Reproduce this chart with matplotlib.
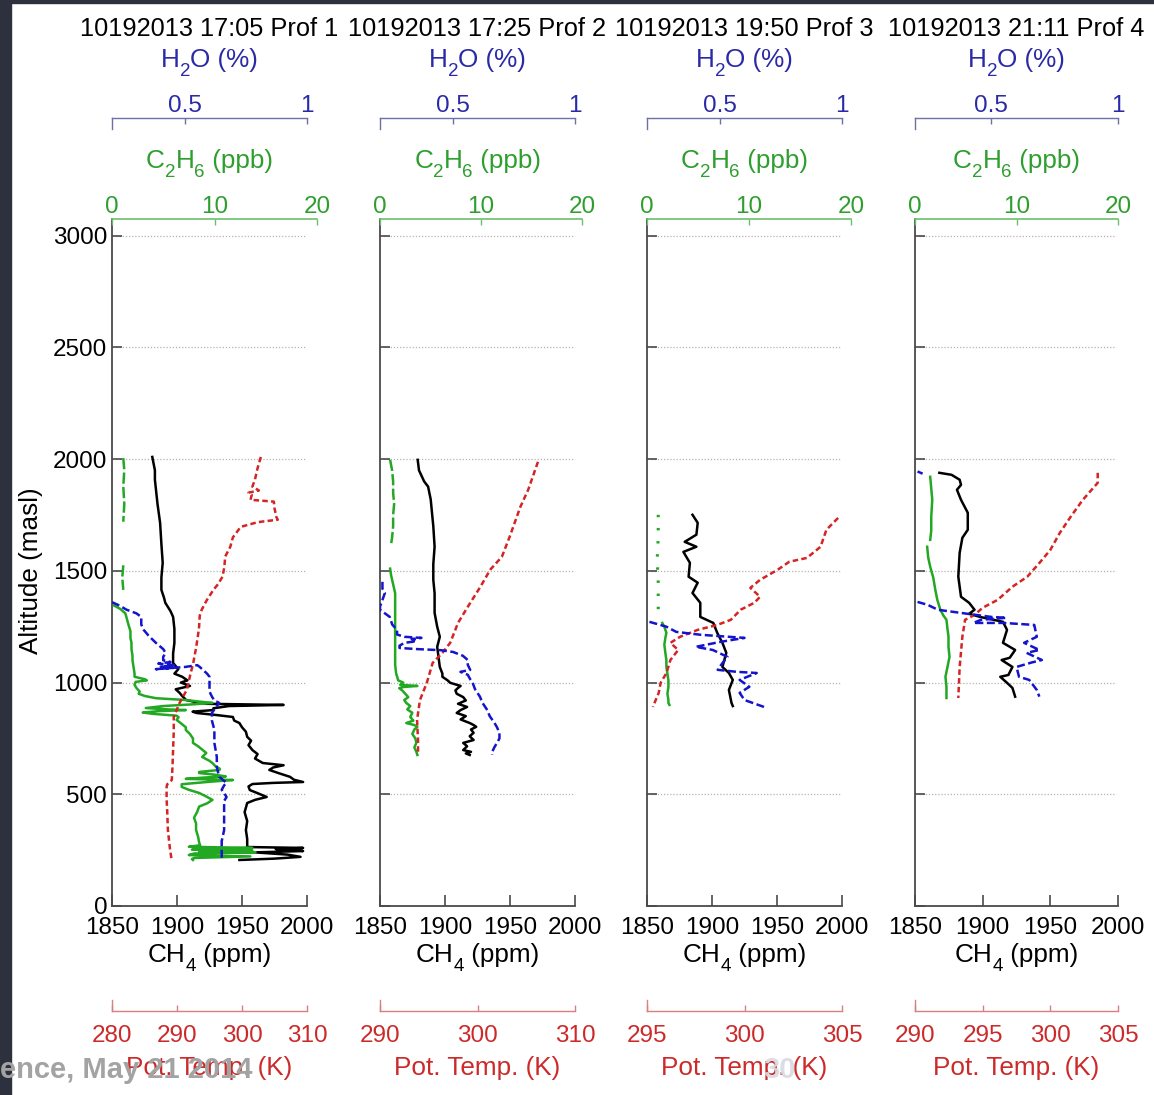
import numpy as np
import matplotlib
matplotlib.use("Agg")
import matplotlib.pyplot as plt
from matplotlib.patches import Rectangle

plt.rcParams["font.family"] = ["Liberation Sans", "DejaVu Sans"]

nan = np.nan

# ---------------- profile data (altitude in m a.s.l.) ----------------
titles = ["10192013 17:05 Prof 1", "10192013 17:25 Prof 2",
          "10192013 19:50 Prof 3", "10192013 21:11 Prof 4"]

ch4_ticks = [1850, 1900, 1950, 2000]
c2h6_ticks = [0, 10, 20]
h2o_ticks = [0.5, 1]
alt_ticks = [0, 500, 1000, 1500, 2000, 2500, 3000]
theta_limits = [(280, 310), (290, 310), (295, 305), (290, 305)]
theta_ticks = [[280, 290, 300, 310], [290, 300, 310], [295, 300, 305],
               [290, 295, 300, 305]]

# Profile 1
p1_ch4_alt = [2010, 1950, 1908, 1800, 1715, 1620, 1536, 1470, 1415, 1380, 1357, 1320,
              1294, 1240, 1178, 1130, 1088, 1060, 1040, 1026, 1010, 1000, 985, 970,
              954, 940, 922, 912, 905, 900, 895, 885, 877, 870, 864, 855, 846, 830,
              819, 800, 780, 757, 740, 720, 698, 680, 660, 640, 630, 620, 609, 595,
              578, 565, 555, 551, 546, 535, 519, 505, 488, 475, 461, 420, 380, 340,
              300, 275, 264, 260, 255, 250, 246, 240, 230, 220, 212, 206]
p1_ch4 = [1881, 1883, 1883, 1885, 1887, 1888, 1889, 1888, 1888, 1890, 1891, 1895,
          1897, 1898, 1898, 1897, 1897, 1901, 1898, 1904, 1908, 1903, 1910, 1899,
          1902, 1904, 1907, 1915, 1923, 1982, 1940, 1928, 1928, 1912, 1915, 1930,
          1943, 1944, 1948, 1950, 1953, 1954, 1957, 1955, 1958, 1962, 1960, 1966,
          1982, 1974, 1971, 1978, 1987, 1990, 1997, 1974, 1958, 1955, 1956, 1962,
          1969, 1960, 1954, 1952, 1954, 1953, 1954, 1954, 1954, 1997, 1976, 1990,
          1997, 1960, 1985, 1995, 1975, 1948]
p1_c2h6_top_alt = [2005, 1950, 1880, 1800, 1720, nan, 1525, 1470, 1415]
p1_c2h6_top = [1.1, 1.2, 1.1, 1.2, 1.1, nan, 1.1, 1.0, 1.1]
p1_c2h6_alt = [1345, 1330, 1310, 1294, 1260, 1230, 1200, 1178, 1150, 1120, 1100, 1070,
               1040, 1026, 1015, 1010, 1003, 990, 975, 960, 950, 940, 930, 922, 915,
               909, 903, 895, 886, 880, 877, 872, 866, 860, 852, 845, 833, 815, 800,
               788, 770, 750, 730, 715, 700, 685, 667, 650, 640, 625, 615, 609, 600,
               595, 588, 580, 575, 569, 564, 556, 545, 533, 520, 506, 490, 475, 460,
               445, 420, 395, 370, 340, 310, 285, 272, 265, 260, 256, 252, 248, 244,
               240, 235, 228, 222, 215, 210, 206]
p1_c2h6 = [0.2, 0.8, 1.3, 1.4, 1.6, 1.8, 1.8, 1.9, 1.9, 2.0, 2.0, 2.1, 2.2, 2.2, 3.2,
           3.4, 2.3, 2.2, 2.4, 2.7, 2.6, 3.2, 4.3, 7.2, 8.5, 9.8, 8.0, 5.0, 3.3, 5.5,
           7.2, 4.5, 3.0, 4.0, 6.3, 6.5, 6.3, 6.8, 7.2, 7.2, 7.6, 7.9, 7.9, 8.4, 8.8,
           9.2, 8.8, 9.5, 9.8, 10.1, 10.5, 10.5, 8.5, 8.5, 10.0, 11.1, 9.0, 7.2, 11.8,
           9.5, 6.8, 6.8, 7.5, 8.5, 9.2, 9.8, 9.3, 8.5, 8.3, 8.0, 8.2, 8.2, 8.4, 8.5,
           8.6, 7.5, 13.7, 8.0, 7.8, 13.7, 8.5, 14.0, 8.0, 7.5, 13.5, 8.0, 7.8, 7.9]
p1_h2o_alt = [1360, 1345, 1326, 1310, 1294, 1260, 1236, 1210, 1178, 1150, 1133, 1115,
              1100, 1092, 1085, 1078, 1072, 1066, 1060, 1070, 1078, 1070, 1060, 1040,
              1026, 990, 960, 937, 920, 909, 895, 880, 864, 830, 788, 730, 667, 620,
              578, 560, 551, 540, 520, 505, 488, 470, 420, 340, 290, 251, 225, 206]
p1_h2o = [0.20, 0.23, 0.26, 0.30, 0.32, 0.32, 0.33, 0.35, 0.38, 0.41, 0.42, 0.41,
          0.41, 0.44, 0.39, 0.46, 0.40, 0.45, 0.38, 0.50, 0.55, 0.56, 0.57, 0.59,
          0.60, 0.60, 0.60, 0.61, 0.62, 0.64, 0.63, 0.62, 0.61, 0.61, 0.62, 0.62,
          0.63, 0.63, 0.64, 0.66, 0.67, 0.66, 0.65, 0.66, 0.67, 0.66, 0.66, 0.66,
          0.65, 0.65, 0.65, 0.65]
p1_theta_alt = [2010, 1960, 1910, 1877, 1860, 1850, 1840, 1818, 1810, 1780, 1740, 1729,
                1722, 1718, 1697, 1650, 1608, 1563, 1520, 1474, 1440, 1415, 1370, 1326,
                1300, 1250, 1205, 1150, 1088, 1030, 967, 909, 846, 780, 700, 620, 564,
                545, 533, 480, 420, 340, 260, 220, 206]
p1_theta = [302.9, 302.4, 302.0, 301.6, 302.6, 301.0, 301.5, 301.3, 304.9, 305.0,
            305.3, 305.5, 303.5, 302.4, 299.8, 298.6, 298.2, 297.4, 297.3, 297.0,
            296.3, 295.6, 294.6, 293.8, 293.5, 293.4, 293.2, 292.9, 292.5, 292.0,
            291.5, 290.4, 289.5, 289.5, 289.4, 289.3, 289.2, 288.5, 288.4, 288.4,
            288.5, 288.6, 288.9, 289.1, 289.2]

# Profile 2
p2_ch4_alt = [1997, 1950, 1900, 1877, 1820, 1760, 1700, 1608, 1530, 1460, 1400, 1312,
              1250, 1205, 1160, 1115, 1070, 1040, 1026, 1010, 999, 985, 976, 965, 950,
              935, 920, 905, 891, 877, 864, 850, 835, 819, 810, 802, 790, 775, 760,
              743, 730, 715, 698, 690, 683, 676]
p2_ch4 = [1879, 1880, 1884, 1887, 1889, 1890, 1891, 1892, 1891, 1891, 1892, 1892,
          1894, 1896, 1894, 1895, 1896, 1898, 1898, 1902, 1904, 1912, 1910, 1908,
          1909, 1914, 1916, 1910, 1917, 1912, 1909, 1916, 1912, 1919, 1922, 1924,
          1920, 1922, 1919, 1922, 1914, 1917, 1914, 1920, 1916, 1919]
p2_c2h6_top_alt = [1997, 1950, 1900, 1850, 1800, 1750, 1700, 1650, 1620]
p2_c2h6_top = [1.0, 1.2, 1.3, 1.3, 1.4, 1.3, 1.3, 1.2, 1.1]
p2_c2h6_alt = [1510, 1480, 1440, 1400, 1350, 1300, 1260, 1200, 1150, 1120, 1080, 1040,
               1026, 1010, 1000, 990, 985, 980, 975, 965, 950, 935, 922, 909, 895,
               880, 865, 846, 830, 819, 810, 802, 790, 770, 750, 730, 710, 690, 676]
p2_c2h6 = [1.0, 1.1, 1.3, 1.5, 1.5, 1.5, 1.5, 1.5, 1.5, 1.5, 1.5, 1.6, 1.7, 1.8, 2.3,
           2.0, 3.7, 2.3, 1.9, 2.2, 2.5, 2.8, 2.4, 2.6, 3.0, 2.7, 3.2, 3.0, 3.3, 2.6,
           3.4, 3.7, 3.4, 3.2, 3.5, 3.6, 3.4, 3.6, 3.7]
p2_h2o_alt = [1451, 1420, 1401, 1370, 1340, 1326, 1310, 1294, 1260, 1236, 1215, 1205,
              1200, 1195, 1185, 1178, 1165, 1155, 1150, 1145, 1137, 1120, 1101, 1080,
              1057, 1048, 1035, 1015, 999, 970, 937, 910, 877, 850, 819, 800, 775, 750,
              730, 712, 690, 676]
p2_h2o = [0.21, 0.21, 0.22, 0.21, 0.20, 0.20, 0.22, 0.24, 0.25, 0.27, 0.27, 0.30,
          0.37, 0.33, 0.35, 0.30, 0.28, 0.28, 0.35, 0.45, 0.50, 0.54, 0.56, 0.56,
          0.57, 0.53, 0.56, 0.57, 0.58, 0.59, 0.61, 0.62, 0.64, 0.65, 0.67, 0.68,
          0.69, 0.69, 0.68, 0.67, 0.66, 0.66]
p2_theta_alt = [1988, 1863, 1787, 1653, 1563, 1505, 1429, 1339, 1267, 1178, 1133, 1088,
                999, 922, 833, 743, 676]
p2_theta = [306.2, 305.2, 304.4, 303.3, 302.5, 301.3, 300.3, 299.0, 298.0, 297.2,
            296.4, 295.4, 294.8, 294.1, 293.8, 293.9, 293.9]

# Profile 3
p3_ch4_alt = [1751, 1715, 1662, 1630, 1608, 1585, 1536, 1474, 1447, 1401, 1357, 1294,
              1267, 1223, 1178, 1133, 1070, 1043, 1012, 967, 909, 895]
p3_ch4 = [1885, 1889, 1888, 1879, 1888, 1878, 1883, 1882, 1889, 1885, 1891, 1891,
          1901, 1904, 1908, 1911, 1908, 1913, 1916, 1913, 1915, 1916]
p3_c2h6_top_alt = [1751, 1650, 1550, 1450, 1326]
p3_c2h6_top = [1.1, 1.1, 1.0, 1.1, 1.1]
p3_c2h6_alt = [1267, 1250, 1223, 1200, 1170, 1133, 1100, 1070, 1040, 1010, 981, 950,
               922, 909, 900]
p3_c2h6 = [1.5, 1.7, 1.9, 1.8, 1.7, 1.8, 1.9, 1.9, 2.0, 2.1, 2.1, 2.0, 2.1, 2.1, 2.2]
p3_h2o_alt = [1272, 1250, 1227, 1214, 1200, 1182, 1160, 1146, 1115, 1088, 1057, 1048,
              1043, 1012, 981, 954, 922, 891]
p3_h2o = [0.21, 0.28, 0.32, 0.42, 0.60, 0.50, 0.40, 0.47, 0.53, 0.51, 0.49, 0.57,
          0.65, 0.58, 0.62, 0.58, 0.60, 0.68]
p3_theta_alt = [1737, 1684, 1608, 1558, 1541, 1505, 1460, 1424, 1384, 1357, 1326, 1281,
                1258, 1236, 1205, 1178, 1146, 1101, 1043, 999, 954, 891]
p3_theta = [304.8, 304.2, 303.9, 303.2, 302.3, 301.7, 300.8, 300.3, 300.8, 300.5,
            299.8, 299.3, 298.6, 297.6, 296.7, 296.2, 296.6, 296.2, 296.0, 295.7,
            295.6, 295.3]

# Profile 4
p4_ch4_alt = [1939, 1930, 1908, 1885, 1863, 1818, 1760, 1684, 1648, 1581, 1474, 1384,
              1357, 1326, 1308, 1294, 1272, 1236, 1178, 1146, 1111, 1101, 1070, 1034,
              1026, 999, 976, 937]
p4_ch4 = [1868, 1877, 1883, 1884, 1881, 1884, 1889, 1889, 1885, 1883, 1882, 1884,
          1890, 1894, 1890, 1898, 1915, 1918, 1915, 1924, 1920, 1914, 1922, 1919,
          1913, 1918, 1922, 1924]
p4_c2h6_alt = [1921, 1870, 1818, 1740, 1680, 1639, nan, 1608, 1560, 1518, 1470, 1415,
               1370, 1326, 1300, 1281, 1240, 1205, 1160, 1115, 1070, 1026, 980, 931]
p4_c2h6 = [1.5, 1.6, 1.7, 1.6, 1.6, 1.5, nan, 1.2, 1.3, 1.5, 1.8, 2.0, 2.2, 2.5, 2.8,
           3.1, 3.2, 3.3, 3.3, 3.4, 3.2, 3.0, 3.1, 3.1]
p4_h2o_alt = [1945, 1935, nan, 1361, 1348, 1326, 1312, 1294, 1290, 1281, 1267, 1267,
              1258, 1205, 1178, 1146, 1133, 1101, 1090, 1070, 1026, 1012, 967, 937]
p4_h2o = [0.21, 0.23, nan, 0.21, 0.25, 0.29, 0.38, 0.50, 0.56, 0.46, 0.43, 0.55,
          0.67, 0.68, 0.63, 0.69, 0.64, 0.70, 0.66, 0.60, 0.61, 0.65, 0.68, 0.69]
p4_theta_alt = [1939, 1894, 1818, 1742, 1670, 1594, 1536, 1474, 1429, 1370, 1335, 1303,
                1281, 1205, 1070, 931]
p4_theta = [303.5, 303.5, 302.4, 301.5, 300.7, 300.0, 299.2, 298.3, 297.2, 296.1,
            295.0, 294.4, 293.7, 293.5, 293.3, 293.2]

profiles = [
    dict(ch4=(p1_ch4, p1_ch4_alt), c2h6=(p1_c2h6, p1_c2h6_alt),
         c2h6_top=(p1_c2h6_top, p1_c2h6_top_alt), h2o=(p1_h2o, p1_h2o_alt),
         theta=(p1_theta, p1_theta_alt)),
    dict(ch4=(p2_ch4, p2_ch4_alt), c2h6=(p2_c2h6, p2_c2h6_alt),
         c2h6_top=(p2_c2h6_top, p2_c2h6_top_alt), h2o=(p2_h2o, p2_h2o_alt),
         theta=(p2_theta, p2_theta_alt)),
    dict(ch4=(p3_ch4, p3_ch4_alt), c2h6=(p3_c2h6, p3_c2h6_alt),
         c2h6_top=(p3_c2h6_top, p3_c2h6_top_alt), h2o=(p3_h2o, p3_h2o_alt),
         theta=(p3_theta, p3_theta_alt)),
    dict(ch4=(p4_ch4, p4_ch4_alt), c2h6=(p4_c2h6, p4_c2h6_alt),
         c2h6_top=None, h2o=(p4_h2o, p4_h2o_alt),
         theta=(p4_theta, p4_theta_alt)),
]

# ---------------- layout (pixel geometry of the page) ----------------
W, H = 1154, 1095
fig = plt.figure(figsize=(W / 100, H / 100), dpi=100)
fig.patch.set_facecolor("white")
renderer = fig.canvas.get_renderer()


def rect(x0, x1, ytop, ybot):
    return [x0 / W, 1 - ybot / H, (x1 - x0) / W, (ybot - ytop) / H]


lefts = [112, 380, 647, 915]
rights = [307, 575, 842, 1118]
rights_c2h6 = [317, 582, 851, 1118]
Y_TOP, Y_BOT = 219, 906
FS = 17.5      # tick labels
FL = 18.8      # axis labels
FT = 18.3      # panel titles

BLACK_AX = "#4a4a4a"
GREEN_TXT, GREEN_LINE, GREEN_AX = "#2e9e2e", "#22a822", "#6cc06c"
BLUE_TXT, BLUE_LINE, BLUE_AX = "#2a2aa8", "#1414cc", "#7070a8"
RED_TXT, RED_LINE, RED_AX = "#cc2a2a", "#d42424", "#d88080"
LW = 1.8


def strip(ax, keep):
    for side in ["top", "bottom", "left", "right"]:
        ax.spines[side].set_visible(side in keep)
    ax.patch.set_visible(False)


def hide_ticks(ax):
    ax.tick_params(axis="both", which="both", bottom=False, top=False, left=False,
                   right=False, labelbottom=False, labeltop=False, labelleft=False,
                   labelright=False)


def sub_label(cx, y_base, parts, color, size=FL):
    """Centered label built from plain and subscript pieces (e.g. H2O)."""
    px = size * 100 / 72
    items = []
    for s, is_sub in parts:
        fs = size * 0.72 if is_sub else size
        t = fig.text(0, 0, s, fontsize=fs, color=color, ha="left", va="baseline")
        w = t.get_window_extent(renderer).width
        items.append((t, w, is_sub))
    total = sum(w for _, w, _ in items)
    x = cx - total / 2
    for t, w, is_sub in items:
        yb = y_base + (0.34 * px if is_sub else 0)
        t.set_position((x / W, 1 - yb / H))
        x += w


for i, prof in enumerate(profiles):
    l, r, rc = lefts[i], rights[i], rights_c2h6[i]
    cx = (l + r) / 2

    # CH4 axes (main frame)
    ax = fig.add_axes(rect(l, r, Y_TOP, Y_BOT))
    ax.set_xlim(1850, 2000)
    ax.set_ylim(0, 3075)
    ax.set_xticks(ch4_ticks)
    ax.set_yticks(alt_ticks)
    if i > 0:
        ax.set_yticklabels([])
    strip(ax, ["left", "bottom"])
    for s in ["left", "bottom"]:
        ax.spines[s].set_color(BLACK_AX)
        ax.spines[s].set_linewidth(1.3)
    ax.tick_params(axis="x", direction="in", length=8, width=1.2, color=BLACK_AX,
                   labelsize=FS, pad=8)
    ax.tick_params(axis="y", direction="in", length=7, width=1.2, color=BLACK_AX,
                   labelsize=FS, pad=3.5)
    for yv in alt_ticks[1:]:
        ax.axhline(yv, xmin=0.02, xmax=0.99, color="#b4b4b4", lw=0.9,
                   ls=(0, (1, 1.5)), zorder=0)
    ax.plot(*prof["ch4"], color="black", lw=LW, zorder=3)

    # C2H6 axes (top scale, slightly wider)
    axg = fig.add_axes(rect(l, rc, Y_TOP, Y_BOT))
    axg.set_xlim(0, 20)
    axg.set_ylim(0, 3075)
    strip(axg, ["top"])
    axg.spines["top"].set_color(GREEN_AX)
    axg.spines["top"].set_linewidth(1.2)
    axg.xaxis.tick_top()
    axg.set_xticks(c2h6_ticks)
    axg.set_yticks([])
    axg.tick_params(axis="x", direction="in", length=4, width=1, color=GREEN_AX,
                    labelcolor=GREEN_TXT, labelsize=FS, pad=1)
    axg.plot(*prof["c2h6"], color=GREEN_LINE, lw=LW)
    if prof["c2h6_top"] is not None:
        style = (0, (0.8, 3.5)) if i == 2 else (0, (4.5, 1.3))
        axg.plot(*prof["c2h6_top"], color=GREEN_LINE, lw=LW + 0.4 if i == 2 else LW,
                 ls=style)

    # potential temperature: data overlay + offset scale below
    axr = fig.add_axes(rect(l, r, Y_TOP, Y_BOT))
    axr.set_ylim(0, 3075)
    strip(axr, [])
    axrs = fig.add_axes(rect(l, r, 1000, 1011), sharex=axr)
    strip(axrs, ["bottom", "left"])
    for s in ["bottom", "left"]:
        axrs.spines[s].set_color(RED_AX)
        axrs.spines[s].set_linewidth(1.0)
    axrs.set_yticks([])
    axrs.set_xlim(*theta_limits[i])
    axrs.set_xticks(theta_ticks[i])
    axrs.tick_params(axis="x", direction="in", length=4, width=1, color=RED_AX,
                     labelcolor=RED_TXT, labelsize=FS, pad=10)
    hide_ticks(axr)
    axr.plot(*prof["theta"], color=RED_LINE, lw=LW, ls=(0, (2.2, 1.3)))

    # H2O: data overlay + offset scale above
    axb = fig.add_axes(rect(l, r, Y_TOP, Y_BOT))
    axb.set_ylim(0, 3075)
    strip(axb, [])
    axbs = fig.add_axes(rect(l, r, 118, 129), sharex=axb)
    strip(axbs, ["top", "left"])
    for s in ["top", "left"]:
        axbs.spines[s].set_color(BLUE_AX)
        axbs.spines[s].set_linewidth(1.0)
    axbs.xaxis.tick_top()
    axbs.set_yticks([])
    axbs.set_xlim(0.2, 1)
    axbs.set_xticks(h2o_ticks)
    axbs.set_xticklabels(["0.5", "1"])
    axbs.tick_params(axis="x", direction="in", length=4, width=1, color=BLUE_AX,
                     labelcolor=BLUE_TXT, labelsize=FS, pad=1)
    hide_ticks(axb)
    axb.plot(*prof["h2o"], color=BLUE_LINE, lw=LW, ls=(0, (3.2, 1.4)))

    # axis titles
    fig.text(cx / W, 1 - 36 / H, titles[i], ha="center", va="baseline",
             fontsize=FT, color="black")
    sub_label(cx, 67, [("H", False), ("2", True), ("O (%)", False)], BLUE_TXT)
    sub_label(cx, 168, [("C", False), ("2", True), ("H", False), ("6", True),
                        (" (ppb)", False)], GREEN_TXT)
    sub_label(cx, 962, [("CH", False), ("4", True), (" (ppm)", False)], "black")
    fig.text(cx / W, 1 - 1075 / H, "Pot. Temp. (K)", ha="center", va="baseline",
             fontsize=FL, color=RED_TXT)

fig.text(31 / W, 1 - 571 / H, "Altitude (masl)", rotation=90, ha="center",
         va="center", fontsize=FL, color="black")

# presentation frame around the figure
fig.patches.append(Rectangle((0, 0), 11 / W, 1, transform=fig.transFigure,
                             color="#2d303d", zorder=5))
fig.patches.append(Rectangle((0, 1 - 3 / H), 1, 3 / H, transform=fig.transFigure,
                             color="#2d303d", zorder=5))
fig.text(252 / W, 1 - 1078 / H, "ence, May 21 2014", ha="right", va="baseline",
         fontsize=21, fontweight="bold", color="#a3a3a3", zorder=6)
fig.text(780 / W, 1 - 1078 / H, "30", ha="center", va="baseline",
         fontsize=21, fontweight="bold", color="#d9dae2", alpha=0.9, zorder=6)

fig.savefig("out.png", dpi=100)
